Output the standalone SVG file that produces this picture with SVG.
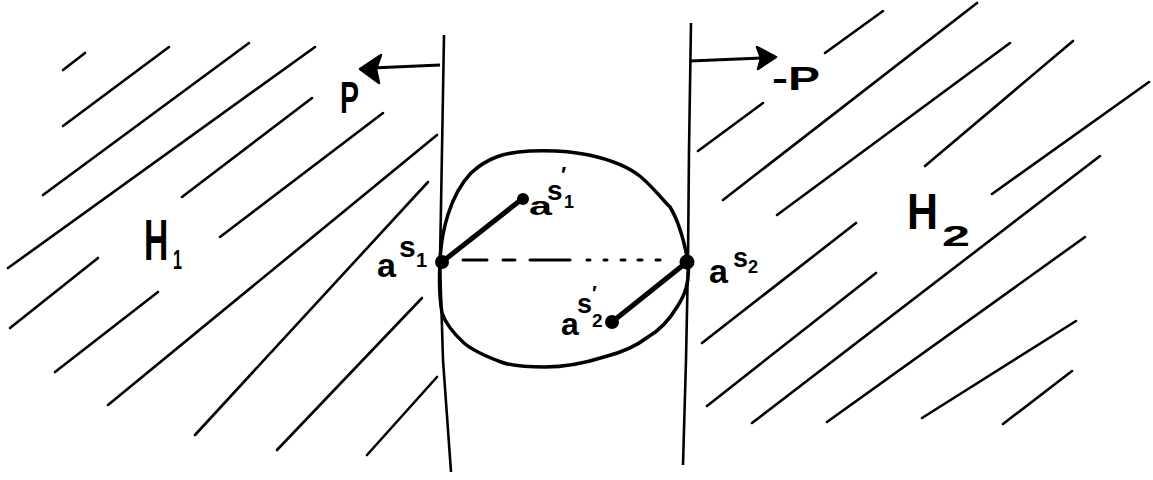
<svg xmlns="http://www.w3.org/2000/svg" width="1153" height="480" viewBox="0 0 1153 480">
<style>
.h{stroke:#000;stroke-width:2.6;stroke-linecap:round;fill:none}
.v{stroke:#000;stroke-width:2.6;fill:none;stroke-linejoin:round}
.t{font-family:"Liberation Sans",Arial,sans-serif;fill:#000;font-weight:bold}
</style>
<rect width="1153" height="480" fill="#fff"/>
<g id="hatch-left" class="h">
<line x1="63" y1="70" x2="85" y2="53"/>
<line x1="63" y1="126" x2="169" y2="47"/>
<line x1="43" y1="195" x2="249" y2="43"/>
<line x1="8" y1="268" x2="315" y2="47"/>
<line x1="182" y1="197" x2="312" y2="98"/>
<line x1="220" y1="237" x2="383" y2="113"/>
<line x1="108" y1="405" x2="437" y2="135"/>
<line x1="195" y1="435" x2="428" y2="182"/>
<line x1="10" y1="328" x2="98" y2="258"/>
<line x1="55" y1="372" x2="158" y2="292"/>
<line x1="277" y1="450" x2="422" y2="298"/>
<line x1="367" y1="455" x2="437" y2="377"/>
</g>
<g id="hatch-right" class="h">
<line x1="825" y1="53" x2="883" y2="11"/>
<line x1="698" y1="151" x2="763" y2="103"/>
<line x1="723" y1="200" x2="977" y2="3"/>
<line x1="777" y1="215" x2="1010" y2="43"/>
<line x1="925" y1="166" x2="1073" y2="41"/>
<line x1="992" y1="194" x2="1149" y2="82"/>
<line x1="752" y1="423" x2="1100" y2="156"/>
<line x1="702" y1="343" x2="856" y2="223"/>
<line x1="707" y1="406" x2="876" y2="273"/>
<line x1="827" y1="422" x2="1085" y2="237"/>
<line x1="922" y1="418" x2="1076" y2="321"/>
<line x1="1003" y1="424" x2="1072" y2="371"/>
</g>
<g id="plane-left">
<polyline class="v" points="444,35 442,150 440,262 443,360 451,472"/>
</g>
<g id="plane-right">
<polyline class="v" points="691,23 689,150 688,262 686,360 683,465"/>
</g>
<g id="ball">
<path d="M440,262 C441,232 450,195 471,173 C487,158 505,152 530,151 C555,150 570,151 589,155 C612,160 630,168 641,177 C656,190 666,204 670,207 C678,220 684,240 688,262 C690,282 685,295 677,307 C668,322 660,330 648,337 C635,347 620,353 604,357 C585,363 565,367 545,367 C528,367 512,366 501,362 C485,356 472,350 464,343 C452,332 445,322 442,313 C439,295 439,280 440,262 Z" fill="none" stroke="#000" stroke-width="3.5"/>
</g>
<g id="connectors">
<line x1="440" y1="65" x2="372" y2="68" stroke="#000" stroke-width="3.2"/>
<polygon points="360,69 381,55 376,69 379,83" fill="#000" stroke="#000" stroke-width="2.5" stroke-linejoin="round"/>
<line x1="690" y1="61" x2="762" y2="58" stroke="#000" stroke-width="3.2"/>
<polygon points="776,57 757,47 761,58 758,69" fill="#000" stroke="#000" stroke-width="2.5" stroke-linejoin="round"/>
<line x1="442" y1="262" x2="522" y2="199" stroke="#000" stroke-width="5" stroke-linecap="round"/>
<line x1="687" y1="262" x2="612" y2="322" stroke="#000" stroke-width="5" stroke-linecap="round"/>
<g stroke="#000" stroke-width="3" stroke-linecap="round">
<line x1="463" y1="260" x2="487" y2="260"/>
<line x1="503" y1="260" x2="515" y2="260"/>
<line x1="530" y1="260" x2="570" y2="260"/>
<line x1="587" y1="260" x2="590" y2="260"/>
<line x1="604" y1="260" x2="607" y2="260"/>
<line x1="621" y1="260" x2="625" y2="260"/>
<line x1="638" y1="260" x2="642" y2="260"/>
<line x1="656" y1="260" x2="660" y2="260"/>
</g>
<circle cx="442" cy="262" r="7" fill="#000"/>
<circle cx="687" cy="262" r="7.5" fill="#000"/>
<circle cx="523" cy="199" r="6" fill="#000"/>
<circle cx="612" cy="322" r="7" fill="#000"/>
</g>
<g id="label-P"><text class="t" x="340" y="113" font-size="44" textLength="19" lengthAdjust="spacingAndGlyphs">P</text></g>
<g id="label-minusP"><text class="t" x="772" y="90" font-size="34" textLength="48" lengthAdjust="spacingAndGlyphs">-P</text></g>
<g id="label-H1"><text class="t" transform="translate(144,260) scale(0.58,1)" font-size="58">H<tspan x="50" y="9" font-size="28">1</tspan></text></g>
<g id="label-H2"><text class="t"><tspan x="907" y="229" font-size="50" textLength="31" lengthAdjust="spacingAndGlyphs">H</tspan><tspan x="942" y="246" font-size="30" textLength="28" lengthAdjust="spacingAndGlyphs">2</tspan></text></g>
<g id="label-as1"><text class="t"><tspan x="377" y="277" font-size="34">a</tspan><tspan x="399" y="257" font-size="30">s</tspan><tspan x="416" y="267" font-size="20">1</tspan></text></g>
<g id="label-as2"><text class="t"><tspan x="709" y="283" font-size="34">a</tspan><tspan x="733" y="267" font-size="27">s</tspan><tspan x="748" y="273" font-size="18">2</tspan></text></g>
<g id="label-as1p"><text class="t"><tspan x="529" y="215" font-size="26" textLength="23" lengthAdjust="spacingAndGlyphs">a</tspan><tspan x="547" y="200" font-size="28">s</tspan><tspan x="561" y="182" font-size="22">′</tspan><tspan x="564" y="208" font-size="18">1</tspan></text></g>
<g id="label-as2p"><text class="t"><tspan x="561" y="335" font-size="32">a</tspan><tspan x="577" y="313" font-size="27">s</tspan><tspan x="592" y="300" font-size="20">′</tspan><tspan x="592" y="327" font-size="19">2</tspan></text></g>
</svg>
